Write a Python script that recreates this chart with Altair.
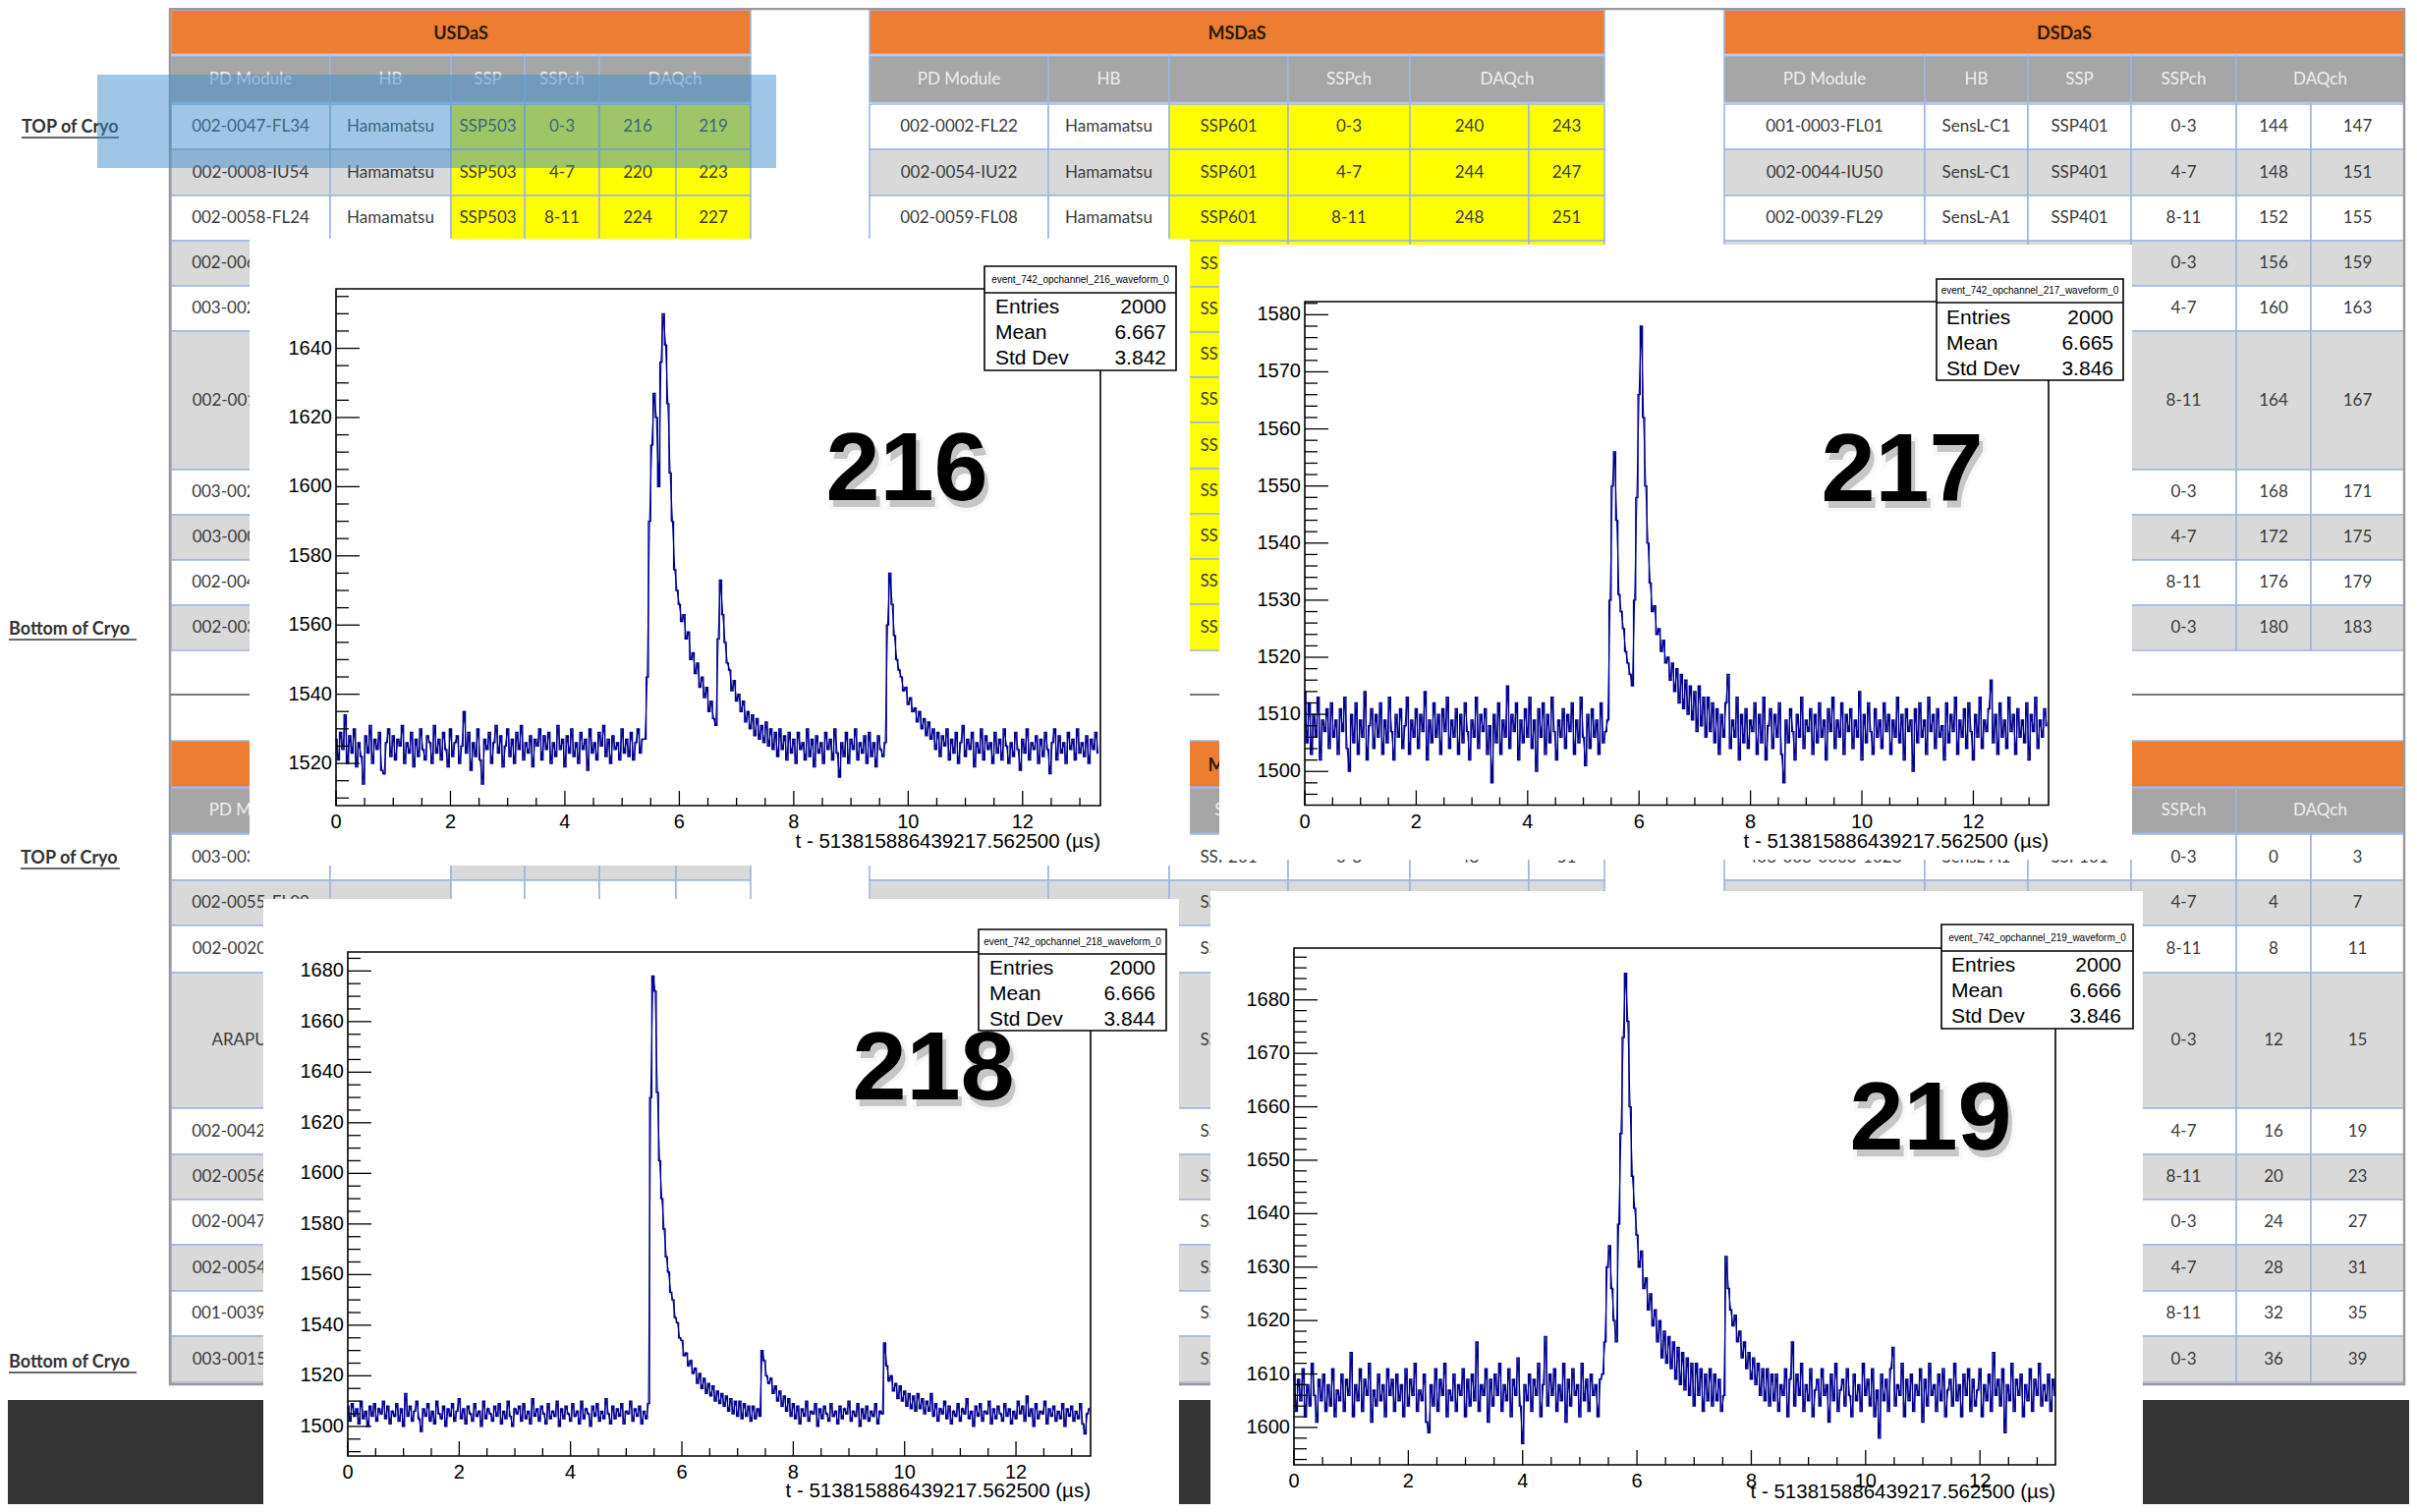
import altair as alt
import numpy as np
import pandas as pd

W, H, OFF = 2444, 1523, 8

# ---------------------------------------------------------------- waveforms
CHANNELS = ["216", "217", "218", "219"]
DT = 0.04  # µs between stored samples

WAVE_216 = [
    1527,1521,1529,1524,1534,1520,1528,1523,1530,1519,1526,1522,1514,1528,1523,
    1531,1520,1527,1524,1529,1518,1517,1526,1530,1522,1528,1521,1527,1525,1531,
    1520,1526,1523,1529,1519,1527,1522,1530,1524,1521,1528,1526,1520,1531,1523,
    1527,1521,1529,1524,1519,1530,1522,1526,1528,1520,1525,1535,1523,1529,1518,
    1526,1522,1530,1521,1514,1527,1524,1529,1520,1526,1531,1523,1528,1519,1525,
    1530,1522,1527,1520,1529,1524,1531,1521,1526,1523,1528,1519,1527,1525,1530,
    1521,1528,1524,1529,1520,1526,1522,1531,1524,1527,1519,1528,1523,1530,1522,
    1526,1520,1529,1524,1527,1518,1530,1523,1526,1521,1529,1525,1531,1522,1527,
    1520,1528,1524,1526,1521,1530,1523,1527,1522,1529,1521,1526,1530,1523,1527,
    1527,1545,1590,1612,1627,1620,1600,1636,1650,1641,
    1624,1604,1590,1576,1570,1566,1561,1563,1556,1558,
    1550,1552,1546,1549,1542,1545,1539,1542,1535,1538,
    1533,1531,1556,1573,1563,1555,1549,1547,1541,1544,
    1538,1540,1535,1538,1532,1535,1530,1534,1528,1533,
    1527,1531,1526,1532,1525,1530,1524,1529,1522,1530,
    1524,1528,1521,1529,1523,
    1527,1520,1529,1524,1526,1521,1530,1522,1527,1519,
    1528,1523,1526,1520,1529,1524,1527,1521,1530,1523,
    1516,1526,1522,1529,1520,1527,1524,1530,1521,1526,
    1523,1528,1520,1529,1522,1526,1519,1528,1524,1522,
    1526,1560,1575,1566,1557,1550,1547,1545,1541,1542,
    1537,1539,1535,1536,1532,1535,1530,1533,1528,1532,
    1527,1530,1524,1529,
    1522,1528,1525,1530,1521,1527,1523,1529,1520,1526,
    1531,1522,1527,1524,1529,1519,1526,1523,1530,1521,
    1528,1524,1526,1520,1529,1523,1527,1521,1530,1525,
    1520,1526,1522,1529,1524,1518,1527,1523,1530,1521,
    1526,1524,1528,1520,1527,1522,1529,1524,1517,1526,
    1530,1521,1528,1523,1526,1520,1529,1524,1527,1521,
    1530,1523,1526,1522,1528,1520,1527,1524,1529,1523,
]

WAVE_217 = [
    1514,1505,1512,1503,1510,1506,1513,1502,1509,1507,1511,1504,1512,1506,1509,1503,1511,
    1507,1513,1504,1500,1510,1505,1512,1503,1509,1506,1514,1502,1508,1511,1504,1510,1506,
    1512,1503,1509,1505,1513,1507,1502,1510,1506,1511,1504,1508,1513,1503,1509,1506,1511,
    1504,1510,1507,1514,1502,1509,1505,1512,1506,1510,1503,1511,1507,1513,1504,1509,1506,
    1511,1503,1510,1505,1512,1507,1502,1509,1506,1513,1504,1510,1507,1511,1503,1508,1498,
    1510,1505,1512,1503,1509,1506,1515,1504,1510,1507,1512,1502,1509,1505,1511,1506,1513,
    1504,1509,1500,1511,1506,1512,1503,1510,1505,1513,1507,1502,1509,1506,1511,1504,1510,
    1507,1512,1503,1509,1505,1513,1506,1501,1510,1504,1511,1506,1509,1503,1512,1505,1507,
    1509,1530,1550,1556,1544,1531,1528,1525,1521,1519,
    1517,1515,1530,1548,1566,1578,1562,1550,1540,1533,
    1528,1529,1524,1525,1521,1523,1519,1520,1516,1519,
    1514,1518,1512,1517,1511,1516,1510,1515,1509,1514,
    1507,1515,1508,1513,1506,1513,1507,1512,
    1505,1511,1503,1510,1506,1512,1517,1504,1509,1506,1513,1502,1510,1505,1511,
    1504,1509,1507,1512,1503,1510,1505,1513,1502,1508,1511,1504,1510,1506,1512,
    1503,1498,1509,1505,1511,1507,1502,1510,1506,1513,1504,1509,1507,1511,1503,
    1510,1505,1512,1506,1509,1502,1511,1507,1513,1504,1509,1506,1512,1503,1510,
    1507,1511,1504,1509,1506,1514,1502,1510,1505,1512,1507,1503,1511,1506,1509,
    1504,1512,1507,1510,1503,1509,1506,1513,1505,1510,1502,1511,1507,1509,1500,
    1511,1505,1512,1506,1509,1503,1513,1507,1510,1504,1511,1506,1508,1502,1512,
    1505,1510,1507,1513,1503,1509,1506,1511,1504,1512,1507,1502,1510,1506,1513,
    1504,1509,1507,1511,1516,1505,1510,1503,1512,1506,1509,1504,1513,1507,1510,
    1503,1511,1506,1509,1505,1512,1502,1510,1507,1513,1504,1509,1506,1511,1508,
]

WAVE_218 = [
    1508,1502,1509,1504,1507,1501,1510,1503,1506,1500,1508,1504,1509,1502,1507,1505,1510,
    1503,1508,1501,1506,1504,1509,1502,1507,1500,1513,1504,1508,1502,1506,1510,1503,1498,
    1507,1504,1509,1502,1506,1501,1510,1505,1503,1508,1500,1507,1504,1509,1502,1506,1511,
    1503,1507,1501,1508,1505,1502,1509,1504,1506,1500,1510,1503,1507,1505,1502,1508,1504,
    1509,1501,1506,1503,1510,1504,1500,1507,1505,1508,1502,1509,1503,1506,1501,1511,1504,
    1507,1502,1508,1505,1501,1509,1503,1506,1504,1510,1500,1507,1503,1508,1505,1502,1509,
    1504,1506,1501,1510,1503,1507,1505,1500,1508,1504,1509,1502,1506,1503,1511,1505,1501,
    1508,1503,1507,1504,1509,1501,1506,1505,1510,1502,1507,1504,1508,1501,1506,1503,1509,
    1630,1678,1672,1632,1605,1590,1578,1567,1561,1553,
    1550,1543,1541,1535,1534,1528,1529,1524,1526,1521,
    1523,1517,1521,1515,1519,1513,1517,1512,1516,1510,
    1514,1509,1513,1508,1512,1506,1511,1505,1510,1504,
    1510,1503,1509,1504,1508,1502,1508,1503,1507,1504,
    1530,1526,1520,1517,1519,1513,1516,1510,1514,1508,
    1512,1506,1511,1504,1509,
    1503,1508,1501,1507,1504,1510,1502,1506,1505,1509,
    1500,1507,1503,1508,1505,1502,1509,1504,1506,1501,
    1508,1503,1507,1505,1510,1502,1506,1504,1509,1500,
    1507,1503,1508,1502,1506,1504,1509,1501,1506,
    1505,1533,1524,1518,1520,1514,1517,1511,1516,1510,
    1514,1508,1513,1507,1512,1506,1513,1507,1511,1505,
    1510,1506,1513,
    1504,1509,1502,1507,1505,1510,1503,1508,1501,1506,
    1504,1509,1502,1507,1505,1511,1503,1506,1500,1508,
    1504,1509,1502,1506,1505,1510,1501,1507,1503,1508,
    1505,1502,1509,1504,1507,1501,1506,1503,1510,1505,
    1508,1502,1512,1504,1507,1500,1509,1503,1506,1505,
    1510,1501,1507,1504,1508,1502,1506,1503,1509,1500,
    1507,1504,1508,1502,1506,1503,1509,1501,1497,1505,
    1507,
]

WAVE_219 = [
    1610,1603,1609,1605,1611,1602,1608,1604,1612,1606,1601,1609,1605,1610,1603,
    1608,1604,1611,1602,1607,1605,1610,1603,1609,1606,1614,1602,1608,1605,1611,
    1603,1609,1606,1612,1601,1607,1604,1610,1605,1608,1602,1611,1606,1609,1603,
    1610,1605,1608,1602,1611,1604,1609,1606,1612,1603,1607,1605,1610,1601,1599,
    1608,1604,1611,1603,1609,1606,1612,1602,1607,1605,1610,1603,1608,1606,1611,
    1602,1609,1604,1610,1605,1616,1603,1608,1606,1611,1601,1609,1604,1610,1606,
    1612,1603,1608,1605,1611,1602,1609,1606,1613,1604,1597,1608,1605,1610,1603,
    1609,1606,1612,1602,1608,1617,1604,1610,1606,1611,1603,1608,1605,1612,1601,
    1609,1604,1611,1606,1608,1602,1612,1605,1609,1603,1610,1606,1608,1602,1609,
    1610,1616,1630,1634,1626,1620,1616,1638,1655,1673,
    1685,1676,1660,1647,1641,1636,1630,1633,1626,1628,
    1622,1625,1619,1622,1616,1620,1613,1618,1612,1617,
    1611,1616,1609,1615,1608,1614,1607,1613,1606,1612,
    1604,1612,1606,1611,1603,1610,1605,1611,1604,1610,
    1605,1609,1603,1606,1632,1626,1622,1619,1621,1616,
    1618,1613,1616,1611,1614,1609,1613,1608,1612,1606,
    1611,1605,1611,1604,1610,
    1605,1610,1603,1608,1606,1611,1602,1609,1616,1604,
    1610,1606,1612,1603,1608,1605,1611,1602,1607,1609,
    1604,1611,1606,1608,1601,1610,1605,1612,1603,1607,
    1609,1604,1611,1606,1602,1610,1605,1608,1603,1612,
    1606,1609,1604,1611,1602,1607,1598,1610,1605,1609,
    1603,1611,1615,1604,1608,1606,1612,1602,1609,1605,
    1610,1603,1608,1606,1611,1601,1609,1604,1612,1606,
    1608,1603,1610,1605,1611,1602,1607,1609,1604,1612,
    1605,1608,1602,1610,1606,1611,1603,1609,1604,1607,
    1611,1602,1608,1605,1610,1603,1614,1606,1609,1604,
    1611,1599,1608,1605,1612,1603,1609,1606,1610,1602,
    1608,1605,1611,1603,1609,1606,1612,1604,1608,1605,
    1610,1603,1609,1606,
]

WAVES = {"216": WAVE_216, "217": WAVE_217, "218": WAVE_218, "219": WAVE_219}

STAT_NAMES = ["Entries", "Mean", "Std Dev"]
STAT_VALUES = {
    "216": ["2000", "6.667", "3.842"],
    "217": ["2000", "6.665", "3.846"],
    "218": ["2000", "6.666", "3.844"],
    "219": ["2000", "6.666", "3.846"],
}
X_MAJOR = [0, 2, 4, 6, 8, 10, 12]
X_MINOR_STEP = 0.5
Y_MAJOR = {
    "216": [1520, 1540, 1560, 1580, 1600, 1620, 1640],
    "217": [1500, 1510, 1520, 1530, 1540, 1550, 1560, 1570, 1580],
    "218": [1500, 1520, 1540, 1560, 1580, 1600, 1620, 1640, 1660, 1680],
    "219": [1600, 1610, 1620, 1630, 1640, 1650, 1660, 1670, 1680],
}
Y_MINOR_STEP = {"216": 5, "217": 2, "218": 5, "219": 2}
X_TITLE = "t - 513815886439217.562500 (\u00b5s)"

# ---------------------------------------------------------------- slide tables
TABLE_TITLES = ["USDaS", "MSDaS", "DSDaS"]
SUB_US = ["PD Module", "HB", "SSP", "SSPch", "DAQch"]
SUB_MS = ["PD Module", "HB", "", "SSPch", "DAQch"]
SUB_DS = ["PD Module", "HB", "SSP", "SSPch", "DAQch"]

TOP_US_ROWS = [
    ["002-0047-FL34", "Hamamatsu", "SSP503", "0-3", "216", "219"],
    ["002-0008-IU54", "Hamamatsu", "SSP503", "4-7", "220", "223"],
    ["002-0058-FL24", "Hamamatsu", "SSP503", "8-11", "224", "227"],
    ["002-0061-FL11", "", "", "", "", ""],
    ["003-0021-FL02", "", "", "", "", ""],
    ["002-0013-IU41", "", "", "", "", ""],
    ["003-0020-FL13", "", "", "", "", ""],
    ["003-0006-IU08", "", "", "", "", ""],
    ["002-0045-FL30", "", "", "", "", ""],
    ["002-0031-IU18", "", "", "", "", ""],
]
TOP_MS_ROWS = [
    ["002-0002-FL22", "Hamamatsu", "SSP601", "0-3", "240", "243"],
    ["002-0054-IU22", "Hamamatsu", "SSP601", "4-7", "244", "247"],
    ["002-0059-FL08", "Hamamatsu", "SSP601", "8-11", "248", "251"],
    ["", "", "SSP602", "", "", ""],
    ["", "", "SSP602", "", "", ""],
    ["", "", "SSP602", "", "", ""],
    ["", "", "SSP603", "", "", ""],
    ["", "", "SSP603", "", "", ""],
    ["", "", "SSP603", "", "", ""],
    ["", "", "SSP604", "", "", ""],
    ["", "", "SSP604", "", "", ""],
    ["", "", "SSP604", "", "", ""],
]
TOP_DS_ROWS = [
    ["001-0003-FL01", "SensL-C1", "SSP401", "0-3", "144", "147"],
    ["002-0044-IU50", "SensL-C1", "SSP401", "4-7", "148", "151"],
    ["002-0039-FL29", "SensL-A1", "SSP401", "8-11", "152", "155"],
    ["", "", "", "0-3", "156", "159"],
    ["", "", "", "4-7", "160", "163"],
    ["", "", "", "8-11", "164", "167"],
    ["", "", "", "0-3", "168", "171"],
    ["", "", "", "4-7", "172", "175"],
    ["", "", "", "8-11", "176", "179"],
    ["", "", "", "0-3", "180", "183"],
]
LOW_US_ROWS = [
    ["003-0031-FL07", "", "", "", "", ""],
    ["002-0055-FL09", "", "", "", "", ""],
    ["002-0020-IU12", "", "", "", "", ""],
    ["ARAPUCA", "", "", "", "", ""],
    ["002-0042-FL16", "", "", "", "", ""],
    ["002-0056-IU27", "", "", "", "", ""],
    ["002-0047-FL09", "", "", "", "", ""],
    ["002-0054-IU31", "", "", "", "", ""],
    ["001-0039-FL22", "", "", "", "", ""],
    ["003-0015-IU05", "", "", "", "", ""],
]
LOW_MS_ROWS = [
    ["", "", "SSP201", "0-3", "48", "51"],
    ["", "", "SSP201", "", "", ""],
    ["", "", "SSP201", "", "", ""],
    ["", "", "SSP202", "", "", ""],
    ["", "", "SSP202", "", "", ""],
    ["", "", "SSP202", "", "", ""],
    ["", "", "SSP203", "", "", ""],
    ["", "", "SSP203", "", "", ""],
    ["", "", "SSP203", "", "", ""],
    ["", "", "SSP204", "", "", ""],
]
LOW_DS_ROWS = [
    ["403-003-0063-1028", "SensL-A1", "SSP101", "0-3", "0", "3"],
    ["", "", "", "4-7", "4", "7"],
    ["", "", "", "8-11", "8", "11"],
    ["", "", "", "0-3", "12", "15"],
    ["", "", "", "4-7", "16", "19"],
    ["", "", "", "8-11", "20", "23"],
    ["", "", "", "0-3", "24", "27"],
    ["", "", "", "4-7", "28", "31"],
    ["", "", "", "8-11", "32", "35"],
    ["", "", "", "0-3", "36", "39"],
]
TOP_US_FILL = ["WY", "GY", "WY", "GG", "WW", "GG", "WW", "GG", "WW", "GG"]
TOP_MS_FILL = ["WY", "GY", "WY", "GY", "WY", "GY", "WY", "GY", "WY", "GY", "WY", "GY"]
TOP_DS_FILL = ["WW", "GG", "WW", "GG", "WW", "GG", "WW", "GG", "WW", "GG"]
LOW_US_FILL = ["WG", "GW", "WW", "GG", "WW", "GG", "WW", "GG", "WW", "GG"]
LOW_MS_FILL = ["WW", "GG", "WW", "GG", "WW", "GG", "WW", "GG", "WW", "GG"]
LOW_DS_FILL = ["WW", "GG", "WW", "GG", "WW", "GG", "WW", "GG", "WW", "GG"]
SIDE_LABELS = ["TOP of Cryo", "Bottom of Cryo", "TOP of Cryo", "Bottom of Cryo"]

# ---------------------------------------------------------------- layout / style
FILL = {"W": "#ffffff", "G": "#d9d9d9", "Y": "#ffff00"}
ORANGE, SUBGRAY, GRIDBLUE = "#ed7d31", "#a6a6a6", "#9fb6de"
LINE_BLUE = "#00008f"
COLS = {
    "US": [174, 336, 459, 534, 610, 688, 764],
    "MS": [885, 1067, 1190, 1311, 1435, 1556, 1633],
    "DS": [1755, 1959, 2064, 2169, 2276, 2352, 2447],
}
TOP_BAND = (10, 55, 57, 104)
LOW_BAND = (754, 801, 802, 848)
ROWS_TOP = [106, 152, 199, 245, 291, 337, 478, 524, 570, 616, 662]
ROWS_TOP_MS = [106, 152, 199, 245, 292, 338, 384, 430, 477, 523, 569, 615, 662]
ROWS_LOW = [849, 896, 942, 990, 1128, 1175, 1221, 1267, 1314, 1360, 1407]
SIDE_POS = [(22, 130, 99), (9, 641, 130), (21, 874, 101), (9, 1387, 130)]

PANELS = {
    "216": dict(box=(254, 243, 1211, 881), frame=(342, 294, 1120, 820), ydom=(1507.8, 1657.2), xmax=13.36,
                stats=(1002, 271, 1197, 377, 298), rows=(312.7, 338.8, 364.5), txt=(1013, 1187), big=(923, 509),
                xtitle=37),
    "217": dict(box=(1241, 249, 2170, 875), frame=(1328, 307, 2085, 819.5), ydom=(1494.1, 1582.3), xmax=13.35,
                stats=(1971, 284, 2161, 387, 308), rows=(324, 350, 375.6), txt=(1981, 2151), big=(1936, 510),
                xtitle=37),
    "218": dict(box=(268, 915, 1200, 1545), frame=(354, 969, 1110, 1482), ydom=(1488.3, 1687.5), xmax=13.34,
                stats=(996, 946, 1187, 1049, 971), rows=(986, 1011.5, 1037.6), txt=(1007, 1176), big=(950, 1119),
                xtitle=36),
    "219": dict(box=(1232, 907, 2181, 1545), frame=(1317, 965, 2092, 1491), ydom=(1593.0, 1689.7), xmax=13.32,
                stats=(1976, 941, 2171, 1047, 968), rows=(982.6, 1009, 1035.2), txt=(1986, 2159), big=(1965, 1170),
                xtitle=28),
}


def CX():
    return alt.Scale(domain=[OFF, OFF + W], range=[0, W], nice=False, zero=False)


def CY():
    return alt.Scale(domain=[OFF, OFF + H], range=[0, H], nice=False, zero=False)


def rect_layer(df, **mk):
    enc = dict(x=alt.X("x0:Q", scale=CX(), axis=None), x2="x1:Q",
               y=alt.Y("y0:Q", scale=CY(), axis=None), y2="y1:Q")
    if "fill" in df.columns:
        enc["fill"] = alt.Fill("fill:N", scale=None)
    return alt.Chart(df).mark_rect(**mk).encode(**enc)


def rule_layer(df, **mk):
    return alt.Chart(df).mark_rule(**mk).encode(
        x=alt.X("x0:Q", scale=CX(), axis=None), x2="x1:Q",
        y=alt.Y("y0:Q", scale=CY(), axis=None), y2="y1:Q")


def text_layer(df, **mk):
    return alt.Chart(df).mark_text(**mk).encode(
        x=alt.X("x:Q", scale=CX(), axis=None),
        y=alt.Y("y:Q", scale=CY(), axis=None),
        text="label:N")


layers = []

# dark desk below the slide
layers.append(rect_layer(pd.DataFrame([dict(x0=0, x1=2470, y0=1425, y1=1545, fill="#343434")])))

# ---- tables
cells, t_reg, t_bold, t_sub = [], [], [], []


def build_table(cols, band, row_edges, title, sub, rows, fills):
    xl, xr = cols[0], cols[-1]
    cells.append(dict(x0=xl, x1=xr, y0=band[0], y1=band[1], fill=ORANGE))
    t_bold.append(dict(x=(xl + xr) / 2, y=(band[0] + band[1]) / 2 + 2, label=title))
    spans = [(0, 1), (1, 2), (2, 3), (3, 4), (4, 6)]
    for (a, b), lab in zip(spans, sub):
        cells.append(dict(x0=cols[a], x1=cols[b], y0=band[2], y1=band[3], fill=SUBGRAY))
        if lab:
            t_sub.append(dict(x=(cols[a] + cols[b]) / 2, y=(band[2] + band[3]) / 2, label=lab))
    for r, (row, f) in enumerate(zip(rows, fills)):
        y0, y1 = row_edges[r], row_edges[r + 1]
        for c in range(6):
            cells.append(dict(x0=cols[c], x1=cols[c + 1], y0=y0, y1=y1, fill=FILL[f[0] if c < 2 else f[1]]))
            if row[c]:
                t_reg.append(dict(x=(cols[c] + cols[c + 1]) / 2, y=(y0 + y1) / 2, label=row[c]))


build_table(COLS["US"], TOP_BAND, ROWS_TOP, TABLE_TITLES[0], SUB_US, TOP_US_ROWS, TOP_US_FILL)
build_table(COLS["MS"], TOP_BAND, ROWS_TOP_MS, TABLE_TITLES[1], SUB_MS, TOP_MS_ROWS, TOP_MS_FILL)
build_table(COLS["DS"], TOP_BAND, ROWS_TOP, TABLE_TITLES[2], SUB_DS, TOP_DS_ROWS, TOP_DS_FILL)
build_table(COLS["US"], LOW_BAND, ROWS_LOW, TABLE_TITLES[0], SUB_DS, LOW_US_ROWS, LOW_US_FILL)
build_table(COLS["MS"], LOW_BAND, ROWS_LOW, TABLE_TITLES[1], SUB_DS, LOW_MS_ROWS, LOW_MS_FILL)
build_table(COLS["DS"], LOW_BAND, ROWS_LOW, TABLE_TITLES[2], SUB_DS, LOW_DS_ROWS, LOW_DS_FILL)

layers.append(rect_layer(pd.DataFrame(cells), stroke=GRIDBLUE, strokeWidth=1.6))
layers.append(rect_layer(pd.DataFrame([dict(x0=173, x1=2447, y0=9, y1=1409)]),
                         fillOpacity=0, stroke="#9a9a9a", strokeWidth=2.5))
layers.append(rule_layer(pd.DataFrame([dict(x0=173, x1=2447, y0=707, y1=707)]),
                         color="#7a7a7a", strokeWidth=2))
layers.append(text_layer(pd.DataFrame(t_reg), font="Lato", fontSize=17, color="#3c3c3c",
                         align="center", baseline="middle"))
layers.append(text_layer(pd.DataFrame(t_sub), font="Lato", fontSize=17, color="#eeeeee",
                         align="center", baseline="middle"))
layers.append(text_layer(pd.DataFrame(t_bold), font="Lato", fontSize=18, fontWeight="bold",
                         color="#2a1a0a", align="center", baseline="middle"))

side = pd.DataFrame([dict(x=p[0], y=p[1], label=s) for s, p in zip(SIDE_LABELS, SIDE_POS)])
layers.append(text_layer(side, font="Lato", fontSize=18, fontWeight="bold", color="#333333",
                         align="left", baseline="middle"))
under = pd.DataFrame([dict(x0=p[0], x1=p[0] + p[2], y0=p[1] + 10, y1=p[1] + 10) for p in SIDE_POS])
layers.append(rule_layer(under, color="#333333", strokeWidth=1.5))

# translucent highlight of the first row
layers.append(rect_layer(pd.DataFrame([dict(x0=99, x1=790, y0=76, y1=171)]),
                         color="#3d8ecb", opacity=0.5))

# ---- white canvases of the four ROOT plots
boxes = pd.DataFrame([dict(x0=PANELS[c]["box"][0], x1=PANELS[c]["box"][2],
                           y0=PANELS[c]["box"][1], y1=PANELS[c]["box"][3]) for c in CHANNELS])
layers.append(rect_layer(boxes, color="white"))

LABEL_FONT = "Liberation Sans"
for ch in CHANNELS:
    p = PANELS[ch]
    fx0, fy0, fx1, fy1 = p["frame"]
    sx = alt.Scale(domain=[0, p["xmax"]], range=[fx0 - OFF, fx1 - OFF], nice=False, zero=False)
    sy = alt.Scale(domain=list(p["ydom"]), range=[fy1 - OFF, fy0 - OFF], nice=False, zero=False)
    wave = WAVES[ch]
    dfw = pd.DataFrame({"t": np.arange(len(wave)) * DT, "v": wave})
    # histogram outline (steps) plus the sample-to-sample strokes, as ROOT's dense trace
    layers.append(alt.Chart(dfw).mark_line(color=LINE_BLUE, strokeWidth=1.3, interpolate="step").encode(
        x=alt.X("t:Q", scale=sx, axis=None), y=alt.Y("v:Q", scale=sy, axis=None)))
    layers.append(alt.Chart(dfw).mark_line(color=LINE_BLUE, strokeWidth=1.1, interpolate="linear").encode(
        x=alt.X("t:Q", scale=sx, axis=None), y=alt.Y("v:Q", scale=sy, axis=None)))

    xmaj = pd.DataFrame({"t": X_MAJOR, "label": [str(v) for v in X_MAJOR]})
    xmin_vals = [float(v) for v in np.arange(0, p["xmax"], X_MINOR_STEP) if abs(v / 2 - round(v / 2)) > 1e-6]
    xmin = pd.DataFrame({"t": xmin_vals})
    ymaj_vals = Y_MAJOR[ch]
    ymaj = pd.DataFrame({"v": ymaj_vals, "label": [str(v) for v in ymaj_vals]})
    st = Y_MINOR_STEP[ch]
    start = np.ceil(p["ydom"][0] / st) * st
    ymin_vals = [float(v) for v in np.arange(start, p["ydom"][1], st) if int(round(v)) not in ymaj_vals]
    ymin = pd.DataFrame({"v": ymin_vals})

    yb = fy1 - OFF
    xl = fx0 - OFF
    layers.append(alt.Chart(xmaj).mark_rule(color="black", strokeWidth=1.3).encode(
        x=alt.X("t:Q", scale=sx, axis=None), y=alt.value(yb), y2=alt.value(yb - 15)))
    layers.append(alt.Chart(xmin).mark_rule(color="black", strokeWidth=1.3).encode(
        x=alt.X("t:Q", scale=sx, axis=None), y=alt.value(yb), y2=alt.value(yb - 8)))
    layers.append(alt.Chart(ymaj).mark_rule(color="black", strokeWidth=1.3).encode(
        y=alt.Y("v:Q", scale=sy, axis=None), x=alt.value(xl), x2=alt.value(xl + 24)))
    layers.append(alt.Chart(ymin).mark_rule(color="black", strokeWidth=1.3).encode(
        y=alt.Y("v:Q", scale=sy, axis=None), x=alt.value(xl), x2=alt.value(xl + 13)))
    layers.append(alt.Chart(xmaj).mark_text(font=LABEL_FONT, fontSize=20, color="black",
                                            align="center", baseline="middle").encode(
        x=alt.X("t:Q", scale=sx, axis=None), y=alt.value(yb + 17), text="label:N"))
    layers.append(alt.Chart(ymaj).mark_text(font=LABEL_FONT, fontSize=20, color="black",
                                            align="right", baseline="middle").encode(
        y=alt.Y("v:Q", scale=sy, axis=None), x=alt.value(xl - 4), text="label:N"))

frames = pd.DataFrame([dict(x0=PANELS[c]["frame"][0], x1=PANELS[c]["frame"][2],
                            y0=PANELS[c]["frame"][1], y1=PANELS[c]["frame"][3]) for c in CHANNELS])
layers.append(rect_layer(frames, fillOpacity=0, stroke="black", strokeWidth=1.6))

xt = pd.DataFrame([dict(x=PANELS[c]["frame"][2], y=PANELS[c]["frame"][3] + PANELS[c]["xtitle"],
                        label=X_TITLE) for c in CHANNELS])
layers.append(text_layer(xt, font=LABEL_FONT, fontSize=20.5, color="black", align="right", baseline="middle"))

# ---- statistics boxes
sboxes = pd.DataFrame([dict(x0=PANELS[c]["stats"][0], x1=PANELS[c]["stats"][2],
                            y0=PANELS[c]["stats"][1], y1=PANELS[c]["stats"][3]) for c in CHANNELS])
layers.append(rect_layer(sboxes, color="white", stroke="black", strokeWidth=1.6))
sdiv = pd.DataFrame([dict(x0=PANELS[c]["stats"][0], x1=PANELS[c]["stats"][2],
                          y0=PANELS[c]["stats"][4], y1=PANELS[c]["stats"][4]) for c in CHANNELS])
layers.append(rule_layer(sdiv, color="black", strokeWidth=1.4))
stitle = pd.DataFrame([dict(x=(PANELS[c]["stats"][0] + PANELS[c]["stats"][2]) / 2,
                            y=(PANELS[c]["stats"][1] + PANELS[c]["stats"][4]) / 2,
                            label=f"event_742_opchannel_{c}_waveform_0") for c in CHANNELS])
layers.append(text_layer(stitle, font=LABEL_FONT, fontSize=10, color="black", align="center", baseline="middle"))
snames, svals = [], []
for c in CHANNELS:
    p = PANELS[c]
    for name, val, yy in zip(STAT_NAMES, STAT_VALUES[c], p["rows"]):
        snames.append(dict(x=p["txt"][0], y=yy, label=name))
        svals.append(dict(x=p["txt"][1], y=yy, label=val))
layers.append(text_layer(pd.DataFrame(snames), font=LABEL_FONT, fontSize=21, color="black",
                         align="left", baseline="middle"))
layers.append(text_layer(pd.DataFrame(svals), font=LABEL_FONT, fontSize=21, color="black",
                         align="right", baseline="middle"))

# ---- big channel labels with a soft shadow
big = pd.DataFrame([dict(x=PANELS[c]["big"][0], y=PANELS[c]["big"][1], label=c) for c in CHANNELS])
layers.append(text_layer(big, font=LABEL_FONT, fontSize=99, fontWeight="bold", color="black",
                         opacity=0.22, stroke="black", strokeWidth=7, strokeOpacity=0.12,
                         dx=4, dy=7, align="center", baseline="alphabetic"))
layers.append(text_layer(big, font=LABEL_FONT, fontSize=99, fontWeight="bold", color="black",
                         align="center", baseline="alphabetic"))

chart = alt.layer(*layers).resolve_scale(x="independent", y="independent").properties(
    width=W, height=H, autosize=alt.AutoSizeParams(type="none"), padding=0, background="white"
).configure_view(stroke=None)

chart.save("out.html", embed_options={"renderer": "svg", "actions": False})
